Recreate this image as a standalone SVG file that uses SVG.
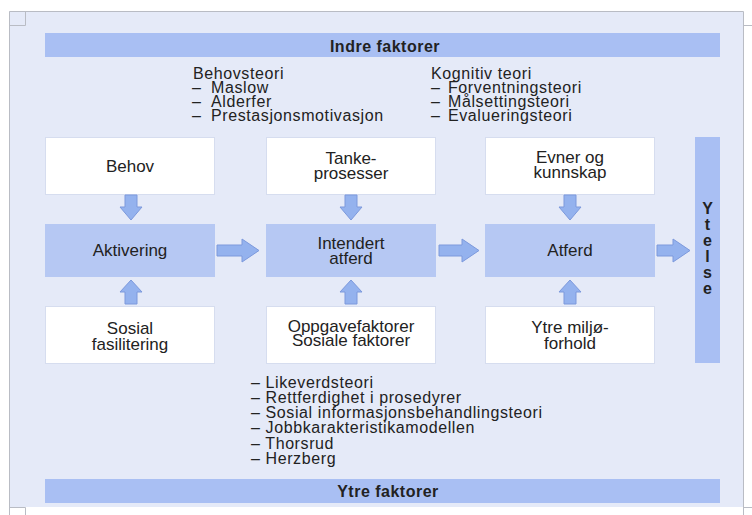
<svg xmlns="http://www.w3.org/2000/svg" width="752" height="515" viewBox="0 0 752 515">
<defs>
<style>
text{font-family:"Liberation Sans",Arial,sans-serif;font-size:17px;fill:#222;}
.l{font-size:16px;letter-spacing:0.6px;}
.c{text-anchor:middle;}
.b{font-weight:bold;font-size:16px;letter-spacing:0.5px;}
.y{font-weight:bold;font-size:16px;text-anchor:middle;}
.bar{fill:#a9bff3;}
.wbox{fill:#ffffff;stroke:#d6ddef;stroke-width:1;}
.mbox{fill:#b6c8f3;}
.arr{fill:#94b2ee;stroke:#7c99dc;stroke-width:1;}
.mark{fill:none;stroke:#b9bcc4;stroke-width:1;}
</style>
<path id="down" d="M-6,0 H6 V12 H11 L0,25 L-11,12 H-6 Z"/>
<path id="up" d="M-6,0 H6 V-12 H11 L0,-24 L-11,-12 H-6 Z"/>
</defs>
<rect x="0" y="0" width="752" height="515" fill="#ffffff"/>
<g id="panel">
<rect x="9" y="11" width="734" height="496" fill="#e5eaf8"/>
<path class="mark" d="M9.5,515 V11.5 H743.5 V515 M25.5,11.5 V25.5 H9.5 M743.5,25.5 H752 M9.5,507.5 H25.5 V515 M743.5,507.5 H752"/>
</g>
<g id="indre">
<rect class="bar" x="45" y="33" width="675" height="24"/>
<text class="b c" x="385" y="52">Indre faktorer</text>
</g>
<g id="ytre">
<rect class="bar" x="45" y="479" width="675" height="24"/>
<text class="b c" x="388" y="497">Ytre faktorer</text>
</g>
<g id="behovsteori">
<text class="l" x="193" y="79">Behovsteori</text>
<text class="l" x="192" y="93">– <tspan x="211">Maslow</tspan></text>
<text class="l" x="192" y="107">– <tspan x="211">Alderfer</tspan></text>
<text class="l" x="192" y="121">– <tspan x="211">Prestasjonsmotivasjon</tspan></text>
</g>
<g id="kognitiv">
<text class="l" x="431" y="79">Kognitiv teori</text>
<text class="l" x="431" y="93">– <tspan x="448">Forventningsteori</tspan></text>
<text class="l" x="431" y="107">– <tspan x="448">Målsettingsteori</tspan></text>
<text class="l" x="431" y="121">– <tspan x="448">Evalueringsteori</tspan></text>
</g>
<g id="likeverd">
<text class="l" x="251" y="388">– Likeverdsteori</text>
<text class="l" x="251" y="403">– Rettferdighet i prosedyrer</text>
<text class="l" x="251" y="418">– Sosial informasjonsbehandlingsteori</text>
<text class="l" x="251" y="433">– Jobbkarakteristikamodellen</text>
<text class="l" x="251" y="449">– Thorsrud</text>
<text class="l" x="251" y="464">– Herzberg</text>
</g>
<g id="behov">
<rect class="wbox" x="45.5" y="137.5" width="169" height="57"/>
<text class="c" x="130" y="172">Behov</text>
</g>
<g id="tanke">
<rect class="wbox" x="266.5" y="137.5" width="169" height="57"/>
<text class="c" x="351" y="164">Tanke-</text>
<text class="c" x="351" y="179">prosesser</text>
</g>
<g id="evner">
<rect class="wbox" x="485.5" y="137.5" width="169" height="57"/>
<text class="c" x="570" y="163">Evner og</text>
<text class="c" x="570" y="178">kunnskap</text>
</g>
<g id="aktivering">
<rect class="mbox" x="45" y="224" width="170" height="53"/>
<text class="c" x="130" y="256">Aktivering</text>
</g>
<g id="intendert">
<rect class="mbox" x="266" y="224" width="170" height="53"/>
<text class="c" x="351" y="249">Intendert</text>
<text class="c" x="351" y="264">atferd</text>
</g>
<g id="atferd">
<rect class="mbox" x="485" y="224" width="170" height="53"/>
<text class="c" x="570" y="256">Atferd</text>
</g>
<g id="sosial">
<rect class="wbox" x="45.5" y="306.5" width="169" height="57"/>
<text class="c" x="130" y="334">Sosial</text>
<text class="c" x="130" y="350">fasilitering</text>
</g>
<g id="oppgave">
<rect class="wbox" x="266.5" y="306.5" width="169" height="57"/>
<text class="c" x="351" y="332">Oppgavefaktorer</text>
<text class="c" x="351" y="346">Sosiale faktorer</text>
</g>
<g id="miljo">
<rect class="wbox" x="485.5" y="306.5" width="169" height="57"/>
<text class="c" x="570" y="333">Ytre miljø-</text>
<text class="c" x="570" y="349">forhold</text>
</g>
<g id="ytelse">
<rect class="bar" x="695" y="137" width="25" height="226"/>
<text class="y" x="707.5" y="214">Y</text>
<text class="y" x="707.5" y="230">t</text>
<text class="y" x="707.5" y="246">e</text>
<text class="y" x="707.5" y="262">l</text>
<text class="y" x="707.5" y="278">s</text>
<text class="y" x="707.5" y="294">e</text>
</g>
<g id="connectors">
<use href="#down" class="arr" x="131" y="195"/>
<use href="#down" class="arr" x="351" y="195"/>
<use href="#down" class="arr" x="570" y="195"/>
<use href="#up" class="arr" x="131" y="304"/>
<use href="#up" class="arr" x="351" y="304"/>
<use href="#up" class="arr" x="570" y="304"/>
<path class="arr" d="M217,245 H242 V239 L259,250.5 L242,262 V256 H217 Z"/>
<path class="arr" d="M439,245 H462 V239 L479,250.5 L462,262 V256 H439 Z"/>
<path class="arr" d="M657,245 H673 V239 L690,250.5 L673,262 V256 H657 Z"/>
</g>
</svg>
